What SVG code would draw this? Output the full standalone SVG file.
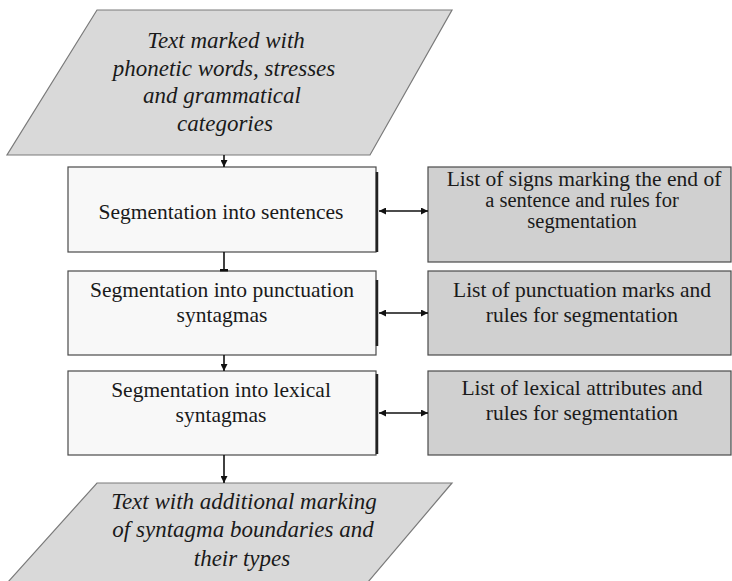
<svg xmlns="http://www.w3.org/2000/svg" width="732" height="581" viewBox="0 0 732 581">
  <defs>
    <marker id="arrow" viewBox="0 0 10 10" refX="10" refY="5" markerWidth="7" markerHeight="7" markerUnits="userSpaceOnUse" orient="auto-start-reverse">
      <path d="M0,0 L10,5 L0,10 z" fill="#111"/>
    </marker>
    <style>
      .io { fill: #d9d9d9; stroke: #7a7a7a; stroke-width: 1.2; }
      .step { fill: #f8f8f8; stroke: #4a4a4a; stroke-width: 1.2; }
      .shade { stroke: #222; stroke-width: 2.5; }
      .rule { fill: #d0d0d0; stroke: #4a4a4a; stroke-width: 1.2; }
      .conn { stroke: #111; stroke-width: 1.6; fill: none; }
      text { font-family: 'Liberation Serif', 'DejaVu Serif', serif; fill: #1a1a1a; text-anchor: middle; }
      .it { font-style: italic; font-size: 23px; }
      .tx { font-size: 21.5px; }
      .tight { font-size: 20.5px; }
    </style>
  </defs>

  <rect width="732" height="581" fill="#ffffff"/>

  <!-- input data -->
  <g id="input">
    <polygon class="io" points="97,10 452,10 370,155 7,155"/>
    <text class="it" x="226" y="48">Text marked with</text>
    <text class="it" x="224" y="76">phonetic words, stresses</text>
    <text class="it" x="222" y="103">and grammatical</text>
    <text class="it" x="225" y="131">categories</text>
  </g>

  <!-- processing steps -->
  <g id="step-sentences">
    <rect class="step" x="68" y="167" width="308" height="85"/>
    <line class="shade" x1="377" y1="172" x2="377" y2="252"/>
    <text class="tx" x="221" y="219">Segmentation into sentences</text>
  </g>

  <g id="step-punctuation">
    <rect class="step" x="68" y="271" width="308" height="84"/>
    <line class="shade" x1="377" y1="280" x2="377" y2="346"/>
    <text class="tx" x="222" y="297">Segmentation into punctuation</text>
    <text class="tx" x="222" y="322">syntagmas</text>
  </g>

  <g id="step-lexical">
    <rect class="step" x="68" y="371" width="308" height="84"/>
    <line class="shade" x1="377" y1="374" x2="377" y2="454"/>
    <text class="tx" x="221" y="397">Segmentation into lexical</text>
    <text class="tx" x="221" y="422">syntagmas</text>
  </g>

  <!-- rule sets -->
  <g id="rules-sentences">
    <rect class="rule" x="428" y="167" width="303" height="95"/>
    <text class="tx" x="584" y="186">List of signs marking the end of</text>
    <text class="tight" x="582" y="207">a sentence and rules for</text>
    <text class="tight" x="582" y="228">segmentation</text>
  </g>

  <g id="rules-punctuation">
    <rect class="rule" x="428" y="271" width="303" height="84"/>
    <text class="tx" x="582" y="297">List of punctuation marks and</text>
    <text class="tx" x="582" y="322">rules for segmentation</text>
  </g>

  <g id="rules-lexical">
    <rect class="rule" x="428" y="371" width="303" height="84"/>
    <text class="tx" x="582" y="395">List of lexical attributes and</text>
    <text class="tx" x="582" y="420">rules for segmentation</text>
  </g>

  <!-- output data -->
  <g id="output">
    <polygon class="io" points="97,483 452,483 368,582 8,582"/>
    <text class="it" x="244" y="509">Text with additional marking</text>
    <text class="it" x="243" y="537">of syntagma boundaries and</text>
    <text class="it" x="242" y="566">their types</text>
  </g>

  <!-- connectors -->
  <g id="connectors">
    <line class="conn" x1="224" y1="155" x2="224" y2="167" marker-end="url(#arrow)"/>
    <line class="conn" x1="224" y1="252" x2="224" y2="270"/>
    <rect x="220" y="269" width="8" height="2.5" fill="#111"/>
    <line class="conn" x1="224" y1="355" x2="224" y2="371" marker-end="url(#arrow)"/>
    <line class="conn" x1="224" y1="455" x2="224" y2="483" marker-end="url(#arrow)"/>

    <line class="conn" x1="379" y1="211" x2="428" y2="211" marker-start="url(#arrow)" marker-end="url(#arrow)"/>
    <line class="conn" x1="379" y1="313" x2="428" y2="313" marker-start="url(#arrow)" marker-end="url(#arrow)"/>
    <line class="conn" x1="379" y1="413" x2="428" y2="413" marker-start="url(#arrow)" marker-end="url(#arrow)"/>
  </g>
</svg>
